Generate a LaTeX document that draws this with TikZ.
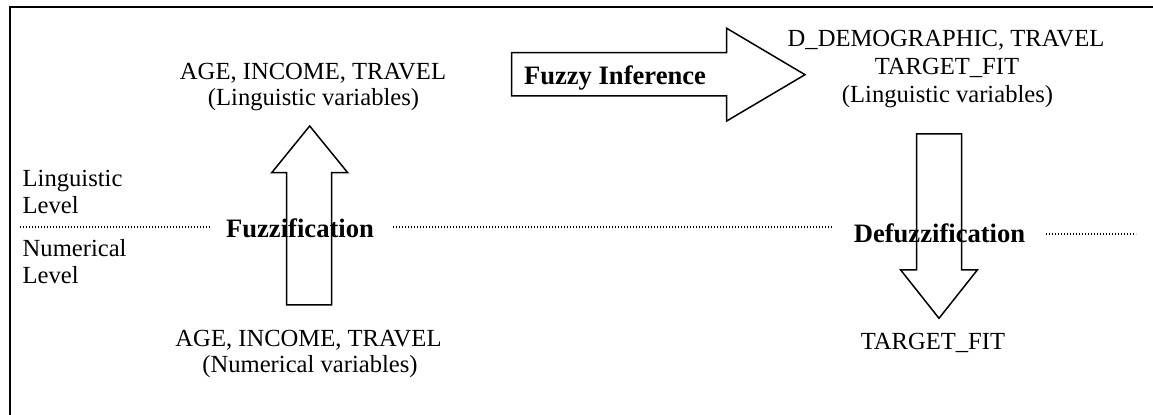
\documentclass[tikz,border=0pt]{standalone}
\usepackage{fontspec}
\setmainfont{Liberation Serif}
\begin{document}
\begin{tikzpicture}[x=0.5pt,y=-0.5pt,
  txt/.style={inner sep=0pt,anchor=base,font=\fontsize{12.3}{14}\selectfont},
  lefttxt/.style={txt,anchor=base west},
  boldtxt/.style={inner sep=0pt,anchor=base,font=\fontsize{13.3}{15}\selectfont\bfseries},
  blockarrow/.style={draw=black,line width=0.75pt,line join=miter},
  levelline/.style={line width=0.6pt,dash pattern=on 0.6pt off 0.9pt},
  frame/.style={line width=1pt}]
\useasboundingbox (0,0) rectangle (1153,415);
% frame
\coordinate (ftl) at (10,7.3);
\coordinate (ftr) at (1153,7.3);
\coordinate (fbl) at (10,415);
\draw[frame] (fbl) -- (ftl) -- (ftr);
% level lines
\coordinate (d1a) at (20,227);
\coordinate (d1b) at (210,227);
\coordinate (d2a) at (393,227);
\coordinate (d2b) at (832,227);
\coordinate (d3a) at (1046,234);
\coordinate (d3b) at (1136,234);
\draw[levelline] (d1a) -- (d1b);
\draw[levelline] (d2a) -- (d2b);
\draw[levelline] (d3a) -- (d3b);
% left labels
\node[lefttxt] (ling1) at (22.3,186.7) {Linguistic};
\node[lefttxt] (ling2) at (22.3,214) {Level};
\node[lefttxt] (num1) at (22.3,256.7) {Numerical};
\node[lefttxt] (num2) at (22.3,283.3) {Level};
% top-left texts
\node[txt] (tl1) at (313,79.3) {AGE, INCOME, TRAVEL};
\node[txt] (tl2) at (313.5,106) {(Linguistic variables)};
% bottom-left texts
\node[txt] (bl1) at (308.5,346.7) {AGE, INCOME, TRAVEL};
\node[txt] (bl2) at (310,372.3) {(Numerical variables)};
% right texts
\node[txt] (tr1) at (946,46.7) {D\_DEMOGRAPHIC, TRAVEL};
\node[txt] (tr2) at (947,75) {TARGET\_FIT};
\node[txt] (tr3) at (947.5,102.7) {(Linguistic variables)};
\node[txt] (br1) at (933,350) {TARGET\_FIT};
% bold labels
\node[boldtxt] (fuzz) at (300,237.3) {Fuzzification};
\node[boldtxt] (infer) at (615,85) {Fuzzy Inference};
\node[boldtxt] (defuzz) at (939.5,242.7) {Defuzzification};
% block arrows
\draw[blockarrow] (286.7,305) -- (286.7,172.7) -- (271.7,172.7) -- (309.7,126)
  -- (347.7,172.7) -- (331.7,172.7) -- (331.7,305) -- cycle;
\draw[blockarrow] (511.7,52.7) -- (726.7,52.7) -- (726.7,28.3) -- (805,74.7)
  -- (726.7,121) -- (726.7,96) -- (511.7,96) -- cycle;
\draw[blockarrow] (916.7,134) -- (961.7,134) -- (961.7,270) -- (977.3,270)
  -- (939,318.3) -- (900.7,270) -- (916.7,270) -- cycle;
\end{tikzpicture}
\end{document}
